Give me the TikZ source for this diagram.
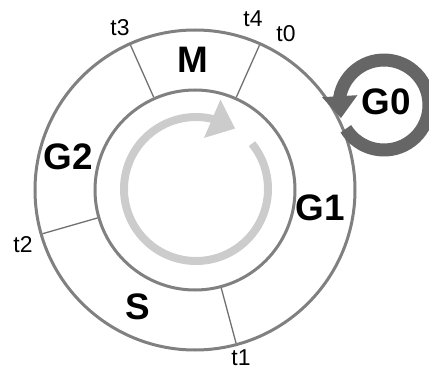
\documentclass[tikz,border=0pt]{standalone}
\usepackage{fontspec}
\setmainfont{Liberation Sans}
\usetikzlibrary{arrows.meta,bending}
\definecolor{ringgray}{HTML}{808080}
\definecolor{spokegray}{HTML}{707070}
\definecolor{loopgray}{HTML}{666666}
\definecolor{cyclegray}{HTML}{CCCCCC}
\begin{document}
\begin{tikzpicture}[x=1bp,y=1bp,
    phase/.style={font=\fontsize{37}{37}\selectfont\bfseries},
    tick/.style={font=\fontsize{23}{23}\selectfont,inner sep=1bp}]
  \useasboundingbox (0,0) rectangle (429,371);
  \coordinate (c) at (195,181);
  % cell cycle rings
  \draw[ringgray,line width=3bp] (c) circle[radius=160];
  \draw[ringgray,line width=3bp] (c) circle[radius=100];
  \foreach \a/\n in {66/t4,114/t3,196/t2,285/t1} {
    \path (c) +(\a:101.5) coordinate (in-\n) +(\a:158.5) coordinate (out-\n);
    \draw[spokegray,line width=1.3bp] (in-\n) -- (out-\n);
  }
  % direction of the cycle
  \draw[cyclegray,line width=8bp,-{Triangle[length=25bp,width=40bp]}]
    (196,182) ++(39:72) arc[start angle=39,end angle=-303,radius=72];
  % resting loop
  \draw[loopgray,line width=13bp,-{Triangle[length=22bp,width=34bp]}]
    (384,266) ++(212:45) arc[start angle=212,end angle=557,radius=45];
  % phases
  \node[phase] (M) at (193,311) {M};
  \node[phase] (G1) at (320,163) {G1};
  \node[phase] (S) at (138,64) {S};
  \node[phase] (G2) at (68,214) {G2};
  \node[phase] (G0) at (386,269) {G0};
  % time points
  \node[tick] (t0) at (286,337) {t0};
  \node[tick] (t1) at (241,13) {t1};
  \node[tick] (t2) at (23,126) {t2};
  \node[tick] (t3) at (120,343) {t3};
  \node[tick] (t4) at (253,352) {t4};
\end{tikzpicture}
\end{document}
